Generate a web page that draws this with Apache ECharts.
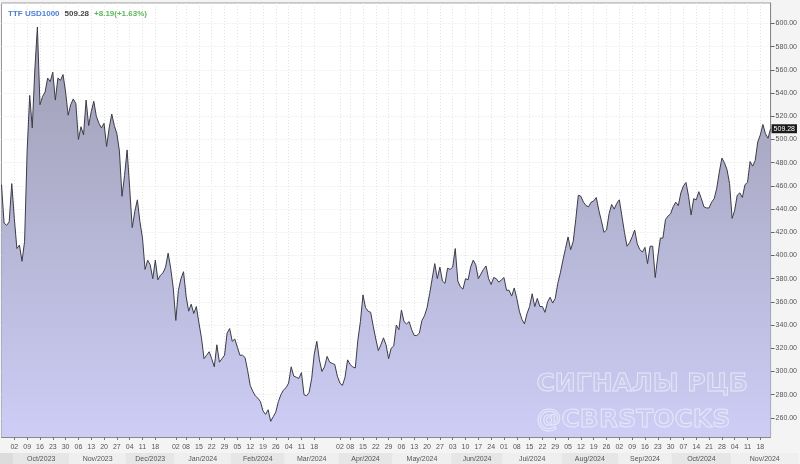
<!DOCTYPE html>
<html>
<head>
<meta charset="utf-8">
<script src="https://cdn.jsdelivr.net/npm/echarts@6/dist/echarts.min.js"></script>
<style>
html,body{margin:0;padding:0;background:#f4f4f4;}
#chart{width:800px;height:464px;}
</style>
</head>
<body>
<div id="chart"></div>
<script>
// ---------------- DATA ----------------
const instrument = 'TTF USD1000';
const lastValue = 509.28;
const changeText = '+8.19(+1.63%)';

// trading calendar (session dates)
const firstSession = '2023-09-25';
const lastSession = '2024-11-22';
const holidays = ['2023-12-25', '2023-12-26', '2024-01-01', '2024-04-01'];
// week labels not printed on the reference axis
const hiddenWeekLabels = ['2023-12-27', '2024-03-25'];

// daily closes, one per session
const closes = [
  461, 428, 426, 429, 462, 432, 406, 409, 395, 412,
  490, 538, 510, 560, 597, 530, 537, 541, 553, 550,
  558, 534, 553, 551, 556, 541, 521, 530, 535, 531,
  500, 511, 504, 534, 512, 524, 533, 520, 514, 510,
  514, 494, 510, 522, 512, 505, 490, 451, 469, 491,
  458, 424, 438, 448, 429, 415, 388, 396, 392, 380,
  396, 379, 383, 385, 390, 402, 389, 372, 344, 370,
  380, 386, 365, 352, 358, 350, 356, 342, 329, 311,
  314, 317, 311, 304, 323, 308, 311, 314, 333, 337,
  326, 328, 321, 314, 314, 312, 301, 288, 283, 279,
  277, 274, 266, 263, 267, 257, 261, 265, 274, 280,
  284, 286, 290, 304, 296, 295, 294, 299, 280, 279,
  282, 294, 315, 326, 310, 300, 304, 313, 308, 307,
  306, 296, 290, 288, 295, 310, 306, 304, 303, 327,
  343, 366, 355, 352, 351, 339, 328, 318, 323, 329,
  323, 311, 320, 322, 340, 336, 353, 343, 341, 343,
  336, 331, 331, 333, 344, 348, 355, 367, 380, 393,
  380, 390, 378, 376, 389, 388, 390, 406, 378, 373,
  371, 380, 379, 390, 396, 392, 380, 384, 388, 391,
  380, 375, 381, 380, 377, 379, 381, 370, 370, 365,
  372, 363, 352, 345, 341, 350, 356, 367, 356, 363,
  356, 356, 351, 360, 364, 359, 363, 376, 385, 396,
  406, 416, 405, 412, 431, 452, 451, 446, 443, 442,
  446, 447, 450, 439, 430, 420, 422, 436, 444, 440,
  445, 448, 434, 420, 408, 411, 416, 422, 410, 405,
  403, 407, 393, 408, 408, 381, 399, 415, 415, 431,
  434, 436, 442, 446, 443, 454, 460, 463, 451, 435,
  449, 448, 455, 449, 442, 441, 441, 446, 449, 458,
  472, 484, 480, 474, 462, 432, 439, 452, 454, 450,
  461, 463, 481, 477, 482, 498, 504, 513, 505, 501.09,
  509.28
];

// price axis
const priceMin = 243.5;
const priceMax = 617.7;
const priceStep = 20;

const monthNames = ['Jan','Feb','Mar','Apr','May','Jun','Jul','Aug','Sep','Oct','Nov','Dec'];

const watermarkLines = ['СИГНАЛЫ РЦБ', '@CBRSTOCKS'];

// ---------------- BUILD ----------------
function buildSessions() {
  const out = [];
  const hol = new Set(holidays);
  const d = new Date(firstSession + 'T00:00:00Z');
  const end = new Date(lastSession + 'T00:00:00Z');
  while (d <= end) {
    const wd = d.getUTCDay();
    const s = d.toISOString().slice(0, 10);
    if (wd !== 0 && wd !== 6 && !hol.has(s)) out.push(s);
    d.setUTCDate(d.getUTCDate() + 1);
  }
  return out;
}
const sessions = buildSessions();

function mondayOf(s) {
  const d = new Date(s + 'T00:00:00Z');
  d.setUTCDate(d.getUTCDate() - (d.getUTCDay() - 1));
  return d.toISOString().slice(0, 10);
}
const hiddenSet = new Set(hiddenWeekLabels);
const weekStart = sessions.map((s, i) =>
  i > 0 && mondayOf(s) !== mondayOf(sessions[i - 1]) && !hiddenSet.has(s));

// month ranges
const monthBands = [];
sessions.forEach((s, i) => {
  const key = s.slice(0, 7);
  const last = monthBands[monthBands.length - 1];
  if (!last || last.key !== key) {
    monthBands.push({ key, start: i, end: i,
      label: monthNames[parseInt(s.slice(5, 7), 10) - 1] + '/' + s.slice(0, 4) });
  } else last.end = i;
});

const chart = echarts.init(document.getElementById('chart'), null, { renderer: 'canvas' });

const labelFont = 'Liberation Sans';

const option = {
  animation: false,
  backgroundColor: '#f4f4f4',
  title: {
    left: 8, top: 5, padding: 0,
    text: '{a|' + instrument + '} {b|' + lastValue.toFixed(2) + '} {c|' + changeText + '}',
    textStyle: {
      rich: {
        a: { color: '#4f80d6', fontSize: 8, fontWeight: 'bold', fontFamily: labelFont },
        b: { color: '#444', fontSize: 8, fontWeight: 'bold', fontFamily: labelFont },
        c: { color: '#5cb85c', fontSize: 8, fontWeight: 'bold', fontFamily: labelFont }
      }
    }
  },
  grid: {
    left: 1.5, right: 28.5, top: 3, bottom: 27,
    show: true, backgroundColor: '#ffffff', borderColor: '#999', borderWidth: 1
  },
  xAxis: [{
    type: 'category',
    data: sessions,
    boundaryGap: false,
    axisLine: { show: true, lineStyle: { color: '#888', width: 1 } },
    axisTick: { show: true, length: 3, interval: (i) => weekStart[i], lineStyle: { color: '#777' } },
    axisLabel: {
      interval: (i) => weekStart[i],
      formatter: (v) => v.slice(8, 10),
      fontSize: 7, color: '#555', margin: 7, fontFamily: labelFont
    },
    splitLine: { show: true, interval: (i) => weekStart[i], lineStyle: { color: '#e2e2e2', type: [1, 2] } }
  }, {
    type: 'category', data: sessions, boundaryGap: false, show: false
  }],
  yAxis: [{
    type: 'value',
    position: 'right',
    min: priceMin, max: priceMax,
    splitNumber: 19, minInterval: priceStep, maxInterval: priceStep,
    axisLine: { show: true, lineStyle: { color: '#888' } },
    axisTick: { show: true, length: 4, lineStyle: { color: '#666' } },
    axisLabel: {
      showMinLabel: false, showMaxLabel: false,
      formatter: (v) => v.toFixed(2),
      fontSize: 7, color: '#555', margin: 5, fontFamily: labelFont
    },
    splitLine: { show: true, lineStyle: { color: '#e2e2e2', type: [1, 2] } }
  }, {
    type: 'value', min: 0, max: 1, show: false
  }],
  series: [{
    type: 'line',
    data: closes,
    xAxisIndex: 0, yAxisIndex: 0,
    showSymbol: false,
    clip: false,
    lineStyle: { color: '#3c3c48', width: 1 },
    areaStyle: {
      color: new echarts.graphic.LinearGradient(0, 0, 0, 1, [
        { offset: 0, color: '#9d9db3' },
        { offset: 1, color: '#cdcdf6' }
      ]),
      opacity: 1
    },
    markLine: {
      silent: true, symbol: 'none', animation: false,
      lineStyle: { color: 'rgba(0,0,0,0)', width: 0, type: 'solid' },
      data: [{ yAxis: lastValue }],
      label: {
        show: true,
        position: 'end', distance: 1,
        formatter: () => lastValue.toFixed(2),
        backgroundColor: '#1c1c1c', color: '#ffffff', fontSize: 7, fontFamily: labelFont,
        padding: [1, 2, 1, 2], opacity: 1
      }
    }
  }, {
    type: 'custom',
    xAxisIndex: 1, yAxisIndex: 1,
    silent: true,
    clip: false,
    data: monthBands.map((m, k) => [m.start, m.end, k, 0]),
    encode: { x: [0, 1], y: 3 },
    renderItem: function (params, api) {
      const k = api.value(2);
      const band = monthBands[k];
      const p0 = api.coord([band.start, 0]);
      const p1 = api.coord([band.end, 0]);
      const half = api.size([1, 0])[0] / 2;
      let x0 = k === 0 ? 0 : p0[0] - half;
      let x1 = k === monthBands.length - 1 ? p1[0] + 28 : p1[0] + half;
      const y = p0[1] + 16;
      const w = x1 - x0;
      const fill = k === 0 ? '#dcdcdc' : (k % 2 === 1 ? '#e6e6e6' : '#efefef');
      const children = [{
        type: 'rect', shape: { x: x0, y: y, width: w, height: 11 },
        style: { fill: fill }
      }];
      if (w > 40) {
        children.push({
          type: 'text',
          style: {
            text: band.label, x: x0 + w / 2, y: y + 6, align: 'center', verticalAlign: 'middle',
            font: '7px "' + labelFont + '"', fill: '#555'
          }
        });
      }
      return { type: 'group', children: children };
    }
  }],
  graphic: [{
    type: 'text', left: 536, top: 371, z: 100, silent: true,
    style: {
      text: watermarkLines[0], font: 'bold 25px "DejaVu Sans"',
      fill: 'rgba(255,255,255,0.05)', stroke: 'rgba(255,255,255,0.55)', lineWidth: 1
    }
  }, {
    type: 'text', left: 536, top: 407, z: 100, silent: true,
    style: {
      text: watermarkLines[1], font: 'bold 25px "DejaVu Sans"',
      fill: 'rgba(255,255,255,0.05)', stroke: 'rgba(255,255,255,0.55)', lineWidth: 1
    }
  }]
};

chart.setOption(option);
</script>
</body>
</html>
